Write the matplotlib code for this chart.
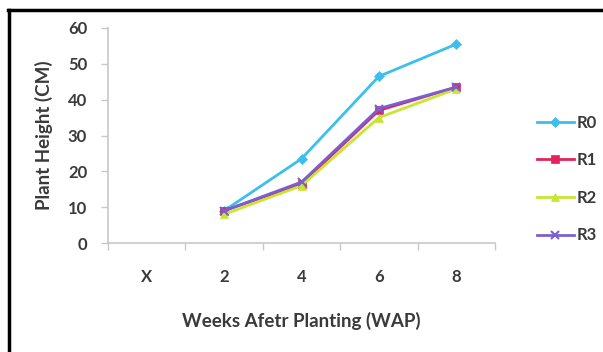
import numpy as np
import matplotlib
matplotlib.use("Agg")
import matplotlib.pyplot as plt
from matplotlib.lines import Line2D

plt.rcParams['font.family'] = ['Lato', 'DejaVu Sans']

# donnees
semaines = ['X', '2', '4', '6', '8']
r0 = [np.nan, 9, 23.5, 46.5, 55.5]
r1 = [np.nan, 9, 16.5, 37, 43.5]
r2 = [np.nan, 8, 16, 35, 43]
r3 = [np.nan, 9, 17, 37.5, 43.5]
noms = ['R0', 'R1', 'R2', 'R3']
y_ticks = [0, 10, 20, 30, 40, 50, 60]

fig = plt.figure(figsize=(6.03, 3.52), dpi=100)
ax = fig.add_axes([108/603, 1 - 243/352, 387/603, 215/352])

x = np.arange(len(semaines))
styles = [
    ('#3cbfee', 'D', 5),
    ('#e3245c', 's', 6),
    ('#c6e631', '^', 6),
    ('#7a5fd0', 'x', 6),
]
for serie, nom, (couleur, mk, ms) in zip([r0, r1, r2, r3], noms, styles):
    ax.plot(x, serie, color=couleur, marker=mk, markersize=ms, linewidth=2,
            markeredgewidth=1.5 if mk == 'x' else 0.5, label=nom)

texte = '#3a3a3a'
ax.set_xlim(-0.5, 4.5)
ax.set_ylim(0, 60)
ax.set_yticks(y_ticks)
ax.set_xticks(x)
ax.set_xticklabels(semaines)
ax.set_xticks(np.arange(-0.5, 5, 1), minor=True)
ax.tick_params(axis='x', which='major', length=0, pad=19, labelsize=12, labelcolor=texte)
ax.tick_params(axis='x', which='minor', length=5, color='#c8c8c8', width=1)
ax.tick_params(axis='y', length=5, color='#c8c8c8', width=1, pad=10, labelsize=12, labelcolor=texte)
for lab in ax.get_xticklabels() + ax.get_yticklabels():
    lab.set_fontweight('bold')

for cote in ['top', 'right']:
    ax.spines[cote].set_visible(False)
for cote in ['left', 'bottom']:
    ax.spines[cote].set_color('#c8c8c8')
    ax.spines[cote].set_linewidth(1.2)

ax.set_ylabel('Plant Height (CM)', fontsize=13.5, fontweight='bold', color=texte, labelpad=11)
ax.set_xlabel('Weeks Afetr Planting (WAP)', fontsize=13.5, fontweight='bold', color=texte, labelpad=19)

leg = fig.legend(loc='center left', bbox_to_anchor=(522/603, 1 - 179/352), frameon=False,
                 prop={'size': 12, 'weight': 'bold'}, labelspacing=1.3,
                 handlelength=2.2, handletextpad=0.15)
for t in leg.get_texts():
    t.set_color(texte)

# cadre noir (bords gauche et haut)
fig.add_artist(Line2D([9/603, 9/603], [0, 1 - 10/352], color='black', linewidth=2.5, transform=fig.transFigure))
fig.add_artist(Line2D([8/603, 1], [1 - 10/352, 1 - 10/352], color='black', linewidth=2.5, transform=fig.transFigure))

fig.savefig('out.png', dpi=100)
